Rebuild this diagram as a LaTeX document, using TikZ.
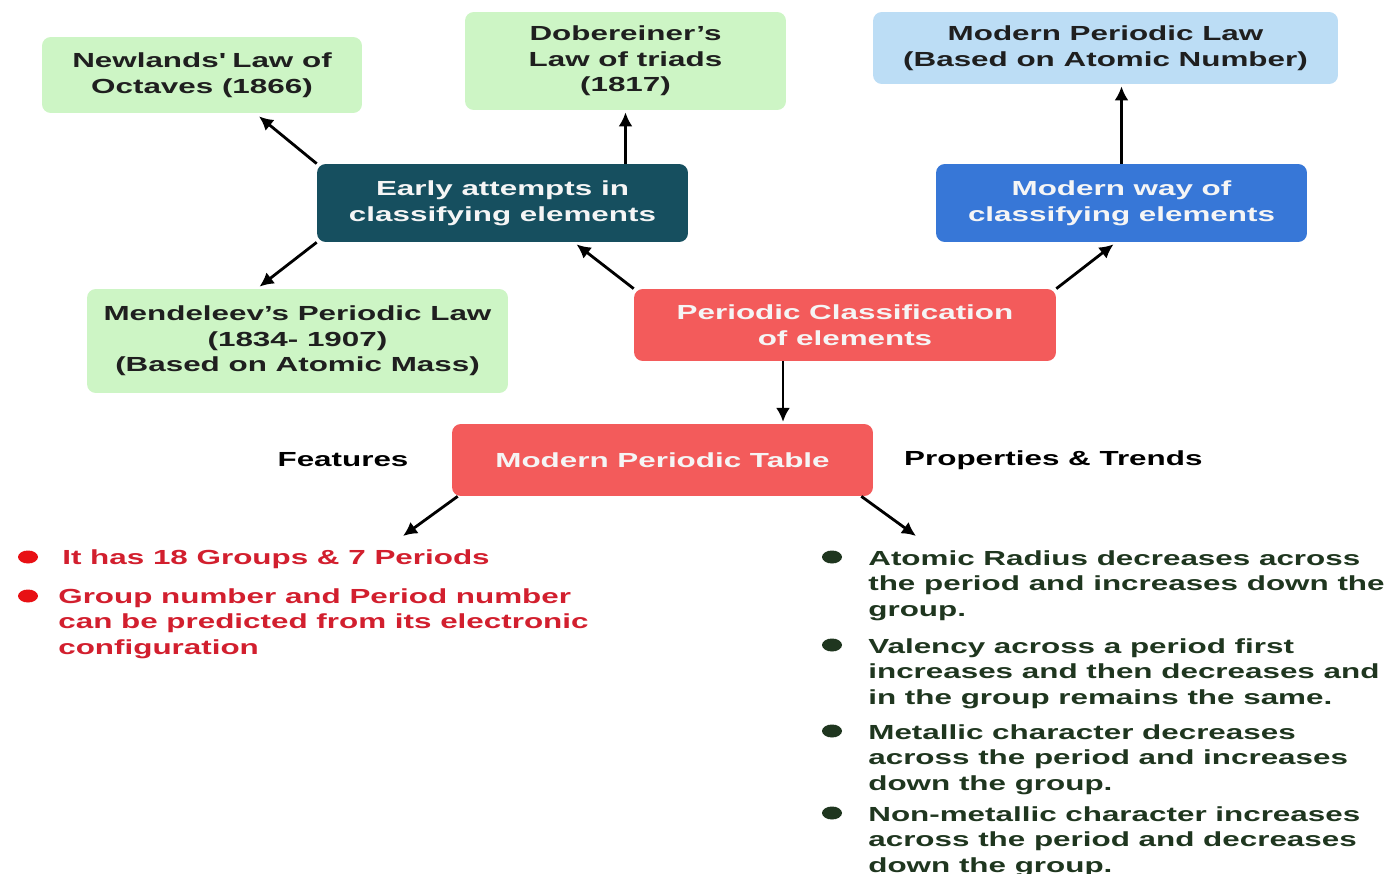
\documentclass[tikz,border=0pt]{standalone}
\usepackage{fontspec}
\setmainfont{Liberation Sans}[FakeStretch=1.54]
\usetikzlibrary{positioning,calc,arrows.meta}
\definecolor{lgreen}{HTML}{CDF5C5}
\definecolor{lblue}{HTML}{BCDDF5}
\definecolor{darkteal}{HTML}{164F5F}
\definecolor{midblue}{HTML}{3777D7}
\definecolor{boxred}{HTML}{F35B5B}
\definecolor{txtred}{HTML}{D21F2E}
\definecolor{dotred}{HTML}{E81014}
\definecolor{txtgreen}{HTML}{1F361F}
\begin{document}
\begin{tikzpicture}[x=0.02cm,y=-0.02cm,>={Latex[length=8pt,width=8pt]},
  lbl/.style={font=\bfseries\fontsize{11.6}{14.6}\selectfont,align=center},
  box/.style={lbl,rounded corners=5pt,inner sep=0pt},
  lightbox/.style={box,fill=lgreen,text=black!88},
  darkbox/.style={box,text=white!96!black},
  item/.style={lbl,align=left,anchor=north west,inner sep=0pt},
  arr/.style={->,line width=1.6pt}]
  \useasboundingbox (0,0) rectangle (1388,874);
  % boxes
  \node[lightbox,minimum width=6.4cm,minimum height=1.52cm] (newl) at (202,75) {Newlands\textquotesingle{} Law of\\Octaves (1866)};
  \node[lightbox,minimum width=6.42cm,minimum height=1.96cm] (dob) at (625.5,61) {Dobereiner’s\\Law of triads\\(1817)};
  \node[lightbox,fill=lblue,minimum width=9.3cm,minimum height=1.44cm] (mpl) at (1105.5,48) {Modern Periodic Law\\(Based on Atomic Number)};
  \node[darkbox,fill=darkteal,minimum width=7.42cm,minimum height=1.56cm] (early) at (502.5,203) {Early attempts in\\classifying elements};
  \node[darkbox,fill=midblue,minimum width=7.42cm,minimum height=1.56cm] (modway) at (1121.5,203) {Modern way of\\classifying elements};
  \node[lightbox,minimum width=8.42cm,minimum height=2.08cm] (mend) at (297.5,341) {Mendeleev’s Periodic Law\\(1834- 1907)\\(Based on Atomic Mass)};
  \node[darkbox,fill=boxred,minimum width=8.44cm,minimum height=1.44cm] (pclass) at (845,325) {Periodic Classification\\of elements};
  \node[darkbox,fill=boxred,minimum width=8.42cm,minimum height=1.44cm] (mpt) at (662.5,460) {Modern Periodic Table};
  \node[lbl] (feat) at (343,460) {Features};
  \node[lbl,anchor=west] (prop) at (898,460) {Properties \& Trends};
  % arrows
  \draw[arr] (early.north west) -- ($(newl.south)+(57,3)$);
  \draw[arr] (dob.south |- early.north) -- ($(dob.south)+(0,2)$);
  \draw[arr] (early.south west) -- ($(mend.north)+(-38,-2)$);
  \draw[arr] (pclass.north west) -- ($(early.south)+(74,2)$);
  \draw[arr] (pclass.north east) -- ($(modway.south)+(-8,2)$);
  \draw[arr] (modway.north) -- ($(modway.north |- mpl.south)+(0,2)$);
  \draw[arr] ([xshift=-1.24cm]pclass.south) -- ([xshift=-1.24cm,yshift=1pt]pclass.south |- mpt.north);
  \coordinate (fend) at (403,536);
  \coordinate (pend) at (916,536);
  \draw[arr] ($(mpt.south west)+(6,0)$) -- (fend);
  \draw[arr] ($(mpt.south east)+(-12,0)$) -- (pend);
  % features
  \foreach \y in {557,596} \fill[dotred] (28,\y) ellipse [x radius=10,y radius=6.5];
  \node[item,text=txtred] (f1) at (62,549) {It has 18 Groups \& 7 Periods};
  \node[item,text=txtred] (f2) at (58,588) {Group number and Period number\\can be predicted from its electronic\\configuration};
  % properties and trends
  \foreach \y in {557,645,731,813} \fill[txtgreen] (832,\y) ellipse [x radius=10,y radius=6.5];
  \node[item,text=txtgreen] (p1) at (868,550) {Atomic Radius decreases across\\the period and increases down the\\group.};
  \node[item,text=txtgreen] (p2) at (868,638) {Valency across a period first\\increases and then decreases and\\in the group remains the same.};
  \node[item,text=txtgreen] (p3) at (868,724) {Metallic character decreases\\across the period and increases\\down the group.};
  \node[item,text=txtgreen] (p4) at (868,806) {Non-metallic character increases\\across the period and decreases\\down the group.};
\end{tikzpicture}
\end{document}
